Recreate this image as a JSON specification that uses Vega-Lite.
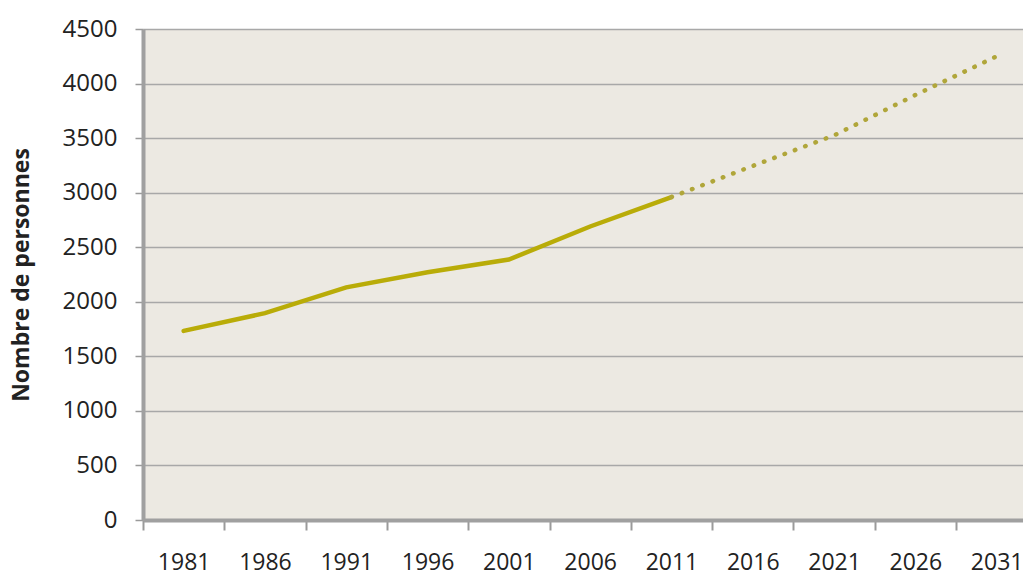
{
  "$schema": "https://vega.github.io/schema/vega-lite/v6.json",
  "width": 880,
  "height": 491,
  "autosize": {"type": "none"},
  "padding": {"left": 143, "top": 29, "right": 0, "bottom": 56},
  "background": "white",
  "config": {
    "view": {"fill": "#ECE9E2", "stroke": null},
    "font": "Open Sans"
  },
  "data": {
    "values": [
      {"year": 1981, "value": 1733, "series": "observé"},
      {"year": 1986, "value": 1896, "series": "observé"},
      {"year": 1991, "value": 2132, "series": "observé"},
      {"year": 1996, "value": 2270, "series": "observé"},
      {"year": 2001, "value": 2387, "series": "observé"},
      {"year": 2006, "value": 2690, "series": "observé"},
      {"year": 2011, "value": 2960, "series": "observé"},
      {"year": 2011, "value": 2960, "series": "projection"},
      {"year": 2016, "value": 3245, "series": "projection"},
      {"year": 2021, "value": 3525, "series": "projection"},
      {"year": 2026, "value": 3895, "series": "projection"},
      {"year": 2031, "value": 4250, "series": "projection"}
    ]
  },
  "encoding": {
    "x": {
      "field": "year",
      "type": "quantitative",
      "scale": {"domain": [1978.5, 2032.62], "nice": false, "zero": false},
      "axis": {
        "title": null,
        "values": [1981, 1986, 1991, 1996, 2001, 2006, 2011, 2016, 2021, 2026, 2031],
        "format": "d",
        "tickOffset": -40.65,
        "labelOffset": 40.65,
        "tickSize": 10,
        "tickColor": "#9A9A9A",
        "tickWidth": 2,
        "domainColor": "#A0A0A0",
        "domainWidth": 4,
        "grid": false,
        "labelFont": "Open Sans",
        "labelFontSize": 23,
        "labelColor": "#222222",
        "labelPadding": 21,
        "labelFlush": false,
        "labelOverlap": false
      }
    },
    "y": {
      "field": "value",
      "type": "quantitative",
      "scale": {"domain": [0, 4500], "nice": false},
      "axis": {
        "title": "Nombre de personnes",
        "titleFont": "Open Sans",
        "titleFontSize": 23,
        "titleFontWeight": "bold",
        "titleColor": "#222222",
        "titleX": -122,
        "titleY": 245.5,
        "titleAngle": -90,
        "titleAlign": "center",
        "titleBaseline": "middle",
        "values": [0, 500, 1000, 1500, 2000, 2500, 3000, 3500, 4000, 4500],
        "format": "d",
        "tickSize": 8,
        "tickColor": "#9A9A9A",
        "tickWidth": 1.5,
        "domainColor": "#A0A0A0",
        "domainWidth": 4,
        "grid": true,
        "gridColor": "#A8A8A8",
        "gridWidth": 1.5,
        "labelFont": "Open Sans",
        "labelFontSize": 24,
        "labelColor": "#222222",
        "labelPadding": 18
      }
    }
  },
  "layer": [
    {
      "transform": [{"filter": "datum.series === 'observé'"}],
      "mark": {"type": "line", "color": "#B9AC08", "strokeWidth": 4.5, "strokeCap": "round"}
    },
    {
      "transform": [{"filter": "datum.series === 'projection'"}],
      "mark": {"type": "line", "color": "#B0A63A", "strokeWidth": 4.5, "strokeCap": "round", "strokeDash": [0.5, 10.5]}
    }
  ]
}
